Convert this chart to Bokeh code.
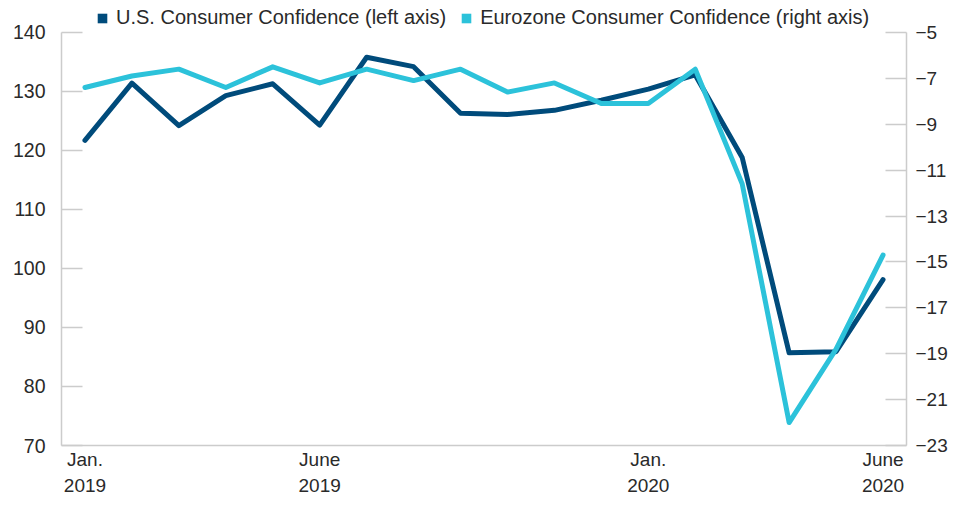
from bokeh.plotting import figure
from bokeh.models import (Range1d, LinearAxis, FixedTicker, Legend, LegendItem)
from bokeh.embed import file_html
from bokeh.resources import INLINE

# ---- data ----
months = ["Jan. 2019", "Feb. 2019", "Mar. 2019", "Apr. 2019", "May 2019", "June 2019",
          "July 2019", "Aug. 2019", "Sept. 2019", "Oct. 2019", "Nov. 2019", "Dec. 2019",
          "Jan. 2020", "Feb. 2020", "Mar. 2020", "Apr. 2020", "May 2020", "June 2020"]
us_confidence = [121.7, 131.4, 124.2, 129.3, 131.3, 124.3, 135.8, 134.2, 126.3, 126.1,
                 126.8, 128.5, 130.4, 132.8, 118.8, 85.7, 85.9, 98.1]
ez_confidence = [-7.4, -6.9, -6.6, -7.4, -6.5, -7.2, -6.6, -7.1, -6.6, -7.6,
                 -7.2, -8.1, -8.1, -6.6, -11.6, -22.0, -18.8, -14.7]
x_tick_positions = [0, 5, 12, 17]
x_tick_labels = ["Jan.\n2019", "June\n2019", "Jan.\n2020", "June\n2020"]
left_ticks = [70, 80, 90, 100, 110, 120, 130, 140]
right_ticks = [-5, -7, -9, -11, -13, -15, -17, -19, -21, -23]
us_label = "U.S. Consumer Confidence (left axis)"
ez_label = "Eurozone Consumer Confidence (right axis)"

DARK = "#004b7b"
LIGHT = "#2cc2da"
GRAY = "#cccccc"
TXT = "#2a2a2a"
FONT = "Liberation Sans"
NAN = float("nan")

x = list(range(len(months)))

W, H = 950, 498
BOTTOM = 52
PLOT_TOP = 32          # pixel row of the top tick (140 / -5)
frame_h = H - BOTTOM   # frame reaches the top of the canvas (legend lives inside it)
axis_h = frame_h - PLOT_TOP

l_lo, l_hi = min(left_ticks), max(left_ticks)
r_lo, r_hi = min(right_ticks), max(right_ticks)
l_top = l_hi + (l_hi - l_lo) * PLOT_TOP / axis_h
r_top = r_hi + (r_hi - r_lo) * PLOT_TOP / axis_h

p = figure(width=W, height=H, output_backend="svg", toolbar_location=None,
           x_range=Range1d(-0.5, len(months) - 0.5), y_range=Range1d(l_lo, l_top),
           min_border_left=61, min_border_right=40, min_border_top=0, min_border_bottom=BOTTOM)
p.extra_y_ranges = {"right": Range1d(r_lo, r_top)}
p.outline_line_color = None
p.xgrid.visible = False
p.ygrid.visible = False
p.background_fill_color = "white"
p.border_fill_color = "white"

# axes
xa = p.xaxis[0]
xa.ticker = FixedTicker(ticks=x_tick_positions)
xa.major_label_overrides = {t: l for t, l in zip(x_tick_positions, x_tick_labels)}
xa.major_tick_in = 0
xa.major_tick_out = 0
xa.minor_tick_line_color = None
xa.axis_line_color = GRAY
xa.axis_line_width = 1.5
xa.major_label_text_font = FONT
xa.major_label_text_font_size = "19px"
xa.major_label_text_color = TXT
xa.major_label_text_line_height = 1.25
xa.major_label_standoff = 3

ya = p.yaxis[0]
ya.ticker = FixedTicker(ticks=left_ticks)
ya.bounds = (l_lo, l_hi)
ya.major_tick_in = 21
ya.major_tick_out = 0
ya.major_tick_line_color = GRAY
ya.major_tick_line_width = 1.5
ya.minor_tick_line_color = None
ya.axis_line_color = GRAY
ya.axis_line_width = 1.5
ya.major_label_text_font = FONT
ya.major_label_text_font_size = "19.5px"
ya.major_label_text_color = TXT
ya.major_label_standoff = 16

ra = LinearAxis(y_range_name="right", ticker=FixedTicker(ticks=right_ticks))
ra.bounds = (r_lo, r_hi)
ra.major_tick_in = 21
ra.major_tick_out = 0
ra.major_tick_line_color = GRAY
ra.major_tick_line_width = 1.5
ra.minor_tick_line_color = None
ra.axis_line_color = GRAY
ra.axis_line_width = 1.5
ra.major_label_text_font = FONT
ra.major_label_text_font_size = "19px"
ra.major_label_text_color = TXT
ra.major_label_standoff = 9
p.add_layout(ra, "right")

# lines
p.line(x, us_confidence, line_color=DARK, line_width=5, line_join="round", line_cap="round")
p.line(x, ez_confidence, line_color=LIGHT, line_width=5, line_join="round", line_cap="round",
       y_range_name="right")

# legend swatches (NaN placeholder renderers, drawn only in the legend)
sw_us = p.quad(left=[NAN], right=[NAN], top=[NAN], bottom=[NAN], fill_color=DARK, line_color=None)
sw_ez = p.quad(left=[NAN], right=[NAN], top=[NAN], bottom=[NAN], fill_color=LIGHT, line_color=None)

legend = Legend(items=[LegendItem(label=us_label, renderers=[sw_us]),
                       LegendItem(label=ez_label, renderers=[sw_ez])],
                orientation="horizontal", location=(35, frame_h - 30))
legend.margin = 0
legend.padding = 0
legend.spacing = 14
legend.glyph_width = 12
legend.glyph_height = 12
legend.label_standoff = 8
legend.label_height = 19
legend.label_text_font = FONT
legend.label_text_font_size = "20px"
legend.label_text_color = TXT
legend.border_line_color = None
legend.background_fill_alpha = 0
p.add_layout(legend, "center")

open("out.html", "w").write(file_html(p, INLINE))
